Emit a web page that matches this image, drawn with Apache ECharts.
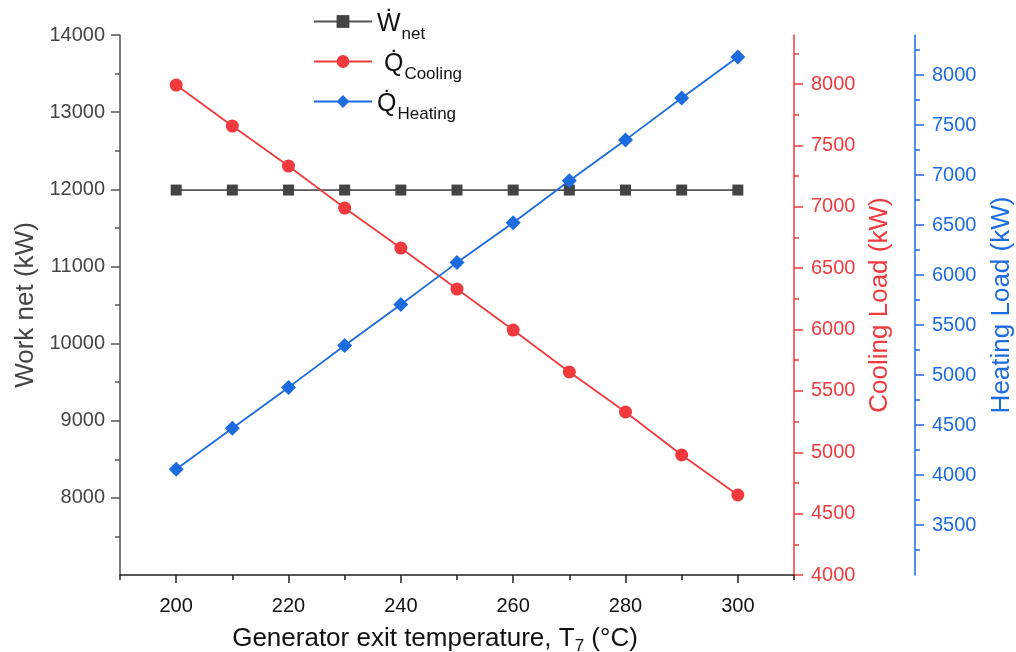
<!DOCTYPE html>
<html>
<head>
<meta charset="utf-8">
<script src="https://cdn.jsdelivr.net/npm/echarts@6/dist/echarts.min.js"></script>
<style>html,body{margin:0;padding:0;background:#fff}#c{width:1016px;height:652px}</style>
</head>
<body>
<div id="c"></div>
<script>
// ---- data ----
var temps = [200, 210, 220, 230, 240, 250, 260, 270, 280, 290, 300];
var workNet = [11990, 11990, 11990, 11990, 11990, 11990, 11990, 11990, 11990, 11990, 11990];
var coolingLoad = [7992, 7658, 7332, 6990, 6664, 6330, 5996, 5654, 5328, 4978, 4652];
var heatingLoad = [4058, 4467, 4876, 5295, 5705, 6124, 6523, 6942, 7351, 7770, 8180];

var xMajorTicks = [200, 220, 240, 260, 280, 300];
var xMinorTicks = [190, 210, 230, 250, 270, 290, 310];
var leftMajorTicks = [8000, 9000, 10000, 11000, 12000, 13000, 14000];
var leftMinorTicks = [7500, 8500, 9500, 10500, 11500, 12500, 13500];
var coolMajorTicks = [4000, 4500, 5000, 5500, 6000, 6500, 7000, 7500, 8000];
var coolMinorTicks = [4250, 4750, 5250, 5750, 6250, 6750, 7250, 7750, 8250];
var heatMajorTicks = [3500, 4000, 4500, 5000, 5500, 6000, 6500, 7000, 7500, 8000];
var heatMinorTicks = [3250, 3750, 4250, 4750, 5250, 5750, 6250, 6750, 7250, 7750, 8250];

function pairs(ys) { return temps.map(function (t, i) { return [t, ys[i]]; }); }
function plain(v) { return String(v); }

var FONT = 'Liberation Sans, Arial, sans-serif';
var RED = '#F03A3E';
var BLUE = '#1C6BDF';
var GRAY = '#444444';

function minorY(pos, offset, min, max, color, ticks) {
  return {
    type: 'value', position: pos, offset: offset, min: min, max: max,
    axisLine: { show: false }, splitLine: { show: false },
    axisLabel: { show: false, customValues: ticks },
    axisTick: { show: true, length: 5, customValues: ticks, lineStyle: { color: color, width: 1.5 } }
  };
}

var chart = echarts.init(document.getElementById('c'));
chart.setOption({
  animation: false,
  backgroundColor: '#fff',
  grid: { left: 120, right: 222, top: 35, bottom: 77, containLabel: false, outerBoundsMode: 'none' },
  legend: {
    orient: 'vertical', left: 308, top: 0, padding: [0, 5, 5, 5], itemWidth: 58, itemHeight: 16, itemGap: -3,
    data: ['Wnet', 'Qcooling', 'Qheating'],
    formatter: function (n) {
      if (n === 'Wnet') return '{m|\u1E86}{s|net}';
      if (n === 'Qcooling') return '{m| Q\u0307}{s|Cooling}';
      return '{m|Q\u0307}{s|Heating}';
    },
    textStyle: {
      fontFamily: FONT, color: '#111',
      rich: {
        m: { fontSize: 25, lineHeight: 25, fontFamily: FONT, color: '#111', padding: [6, 0, 0, 0] },
        s: { fontSize: 17, lineHeight: 17, fontFamily: FONT, color: '#111', padding: [26, 0, 0, 1] }
      }
    }
  },
  xAxis: [{
    type: 'value', min: 190, max: 310, position: 'bottom',
    name: 'Generator exit temperature, T{s|7} (°C)', nameLocation: 'middle', nameGap: 48,
    nameTextStyle: { fontFamily: FONT, fontSize: 26, color: '#111', padding: [0, 44, 0, 0],
      rich: { s: { fontSize: 17, fontFamily: FONT, color: '#111', padding: [15, 0, 0, 0] } } },
    axisLine: { show: true, lineStyle: { color: '#222', width: 1.5 } },
    axisTick: { show: true, length: 8, customValues: xMajorTicks, lineStyle: { color: '#222', width: 1.5 } },
    axisLabel: { customValues: xMajorTicks, formatter: plain, fontFamily: FONT, fontSize: 20, color: '#111', margin: 21 },
    splitLine: { show: false }
  }, {
    type: 'value', min: 190, max: 310, position: 'bottom',
    axisLine: { show: false }, splitLine: { show: false },
    axisLabel: { show: false, customValues: xMinorTicks },
    axisTick: { show: true, length: 5, customValues: xMinorTicks, lineStyle: { color: '#222', width: 1.5 } }
  }],
  yAxis: [{
    type: 'value', position: 'left', min: 7000, max: 14000,
    name: 'Work net (kW)', nameLocation: 'middle', nameGap: 78,
    nameTextStyle: { fontFamily: FONT, fontSize: 26, color: GRAY },
    axisLine: { show: true, lineStyle: { color: '#555', width: 1.5 } },
    axisTick: { show: true, length: 9, customValues: leftMajorTicks, lineStyle: { color: '#555', width: 1.5 } },
    axisLabel: { customValues: leftMajorTicks, formatter: plain, fontFamily: FONT, fontSize: 20, color: GRAY, margin: 15 },
    splitLine: { show: false }
  }, {
    type: 'value', position: 'right', offset: 0, min: 4000, max: 8400,
    name: 'Cooling Load (kW)', nameLocation: 'middle', nameGap: 72,
    nameTextStyle: { fontFamily: FONT, fontSize: 26, color: RED },
    axisLine: { show: true, lineStyle: { color: RED, width: 1.5 } },
    axisTick: { show: true, length: 9, customValues: coolMajorTicks, lineStyle: { color: RED, width: 1.5 } },
    axisLabel: { customValues: coolMajorTicks, formatter: plain, fontFamily: FONT, fontSize: 20, color: RED, margin: 17 },
    splitLine: { show: false }
  }, {
    type: 'value', position: 'right', offset: 121, min: 3000, max: 8400,
    name: 'Heating Load (kW)', nameLocation: 'middle', nameGap: 74,
    nameTextStyle: { fontFamily: FONT, fontSize: 26, color: BLUE },
    axisLine: { show: true, lineStyle: { color: BLUE, width: 1.5 } },
    axisTick: { show: true, length: 9, customValues: heatMajorTicks, lineStyle: { color: BLUE, width: 1.5 } },
    axisLabel: { customValues: heatMajorTicks, formatter: plain, fontFamily: FONT, fontSize: 20, color: BLUE, margin: 17 },
    splitLine: { show: false }
  },
    minorY('left', 0, 7000, 14000, '#555', leftMinorTicks),
    minorY('right', 0, 4000, 8400, RED, coolMinorTicks),
    minorY('right', 121, 3000, 8400, BLUE, heatMinorTicks)
  ],
  series: [{
    name: 'Wnet', type: 'line', xAxisIndex: 0, yAxisIndex: 0, data: pairs(workNet),
    symbol: 'rect', symbolSize: 11, showAllSymbol: true,
    lineStyle: { color: '#555', width: 1.8 }, itemStyle: { color: GRAY }, color: GRAY
  }, {
    name: 'Qcooling', type: 'line', xAxisIndex: 0, yAxisIndex: 1, data: pairs(coolingLoad),
    symbol: 'circle', symbolSize: 13, showAllSymbol: true,
    lineStyle: { color: RED, width: 1.8 }, itemStyle: { color: RED }, color: RED
  }, {
    name: 'Qheating', type: 'line', xAxisIndex: 0, yAxisIndex: 2, data: pairs(heatingLoad),
    symbol: 'diamond', symbolSize: 15, showAllSymbol: true,
    lineStyle: { color: BLUE, width: 1.8 }, itemStyle: { color: BLUE }, color: BLUE
  }]
});
</script>
</body>
</html>
